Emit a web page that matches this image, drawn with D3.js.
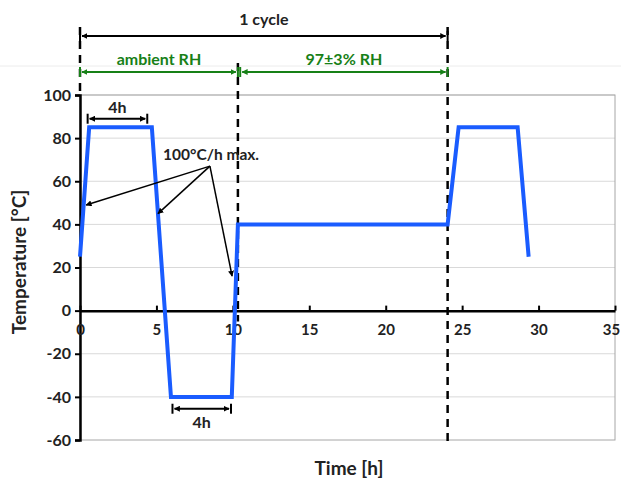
<!DOCTYPE html>
<html>
<head>
<meta charset="utf-8">
<script src="https://cdn.jsdelivr.net/npm/d3@7"></script>
<style>
  body { margin: 0; background: #fff; }
  text { font-family: Lato, "Open Sans", sans-serif; font-weight: bold; }
</style>
</head>
<body>
<div id="plot"></div>
<script>
// Temperature profile
const timeH = [0, 0.6, 4.7, 5.95, 9.93, 10.33, 24.05, 24.77, 28.63, 29.35];
const tempC = [25, 85, 85, -40, -40, 40, 40, 85, 85, 25];
const xTicks = [0, 5, 10, 15, 20, 25, 30, 35];
const yTicks = [-60, -40, -20, 0, 20, 40, 60, 80, 100];
// phase boundaries (h)
const cycleStart = 0, humidStart = 10.33, cycleEnd = 24.05;

const svgWidth = 621, svgHeight = 484;
const margin = { top: 95, right: 6, bottom: 44, left: 80 };

const svg = d3.select("#plot").append("svg")
    .attr("width", svgWidth)
    .attr("height", svgHeight);

const x = d3.scaleLinear().domain([0, 35]).range([margin.left, 615]);
const y = d3.scaleLinear().domain([-60, 100]).range([440, margin.top]);

// faint page line
svg.append("line")
    .attr("x1", 0).attr("x2", svgWidth)
    .attr("y1", 66).attr("y2", 66)
    .attr("stroke", "#ececec").attr("stroke-width", 1);

// gridlines
svg.append("g").selectAll("line")
    .data(yTicks.filter(d => d !== 0 && d !== -60))
    .enter().append("line")
    .attr("x1", x(0)).attr("x2", x(35))
    .attr("y1", d => y(d)).attr("y2", d => y(d))
    .attr("stroke", "#d9d9d9").attr("stroke-width", 1);

// plot frame
svg.append("rect")
    .attr("x", x(0)).attr("y", y(100))
    .attr("width", x(35) - x(0)).attr("height", y(-60) - y(100))
    .attr("fill", "none").attr("stroke", "#a6a6a6").attr("stroke-width", 1);

// y axis
const yAxis = svg.append("g")
    .attr("transform", `translate(${x(0)},0)`)
    .call(d3.axisLeft(y).tickValues(yTicks).tickFormat(d => String(d)).tickSize(5).tickPadding(4));
yAxis.select(".domain").attr("stroke", "#000").attr("stroke-width", 2.5);
yAxis.selectAll(".tick line").attr("stroke", "#000").attr("stroke-width", 2);
yAxis.selectAll("text").style("font-size", "16px").attr("fill", "#222");

// x axis through zero
const xAxis = svg.append("g")
    .attr("transform", `translate(0,${y(0)})`)
    .call(d3.axisBottom(x).tickValues(xTicks).tickFormat(d => String(d)).tickSize(0).tickPadding(14));
xAxis.select(".domain").attr("stroke", "#000").attr("stroke-width", 2.5);
xAxis.selectAll(".tick").append("line")
    .attr("y1", -5).attr("y2", 0)
    .attr("stroke", "#000").attr("stroke-width", 2);
xAxis.selectAll("text").style("font-size", "15px").attr("fill", "#222");
// last label sits against the page edge
xAxis.selectAll(".tick text").filter(d => d === 35).attr("dx", -4);

// axis titles
svg.append("text")
    .attr("transform", `translate(26,${262}) rotate(-90)`)
    .attr("text-anchor", "middle")
    .style("font-size", "19px")
    .attr("fill", "#222")
    .text("Temperature [°C]");
svg.append("text")
    .attr("x", 349).attr("y", 475)
    .attr("text-anchor", "middle")
    .style("font-size", "19px")
    .attr("fill", "#222")
    .text("Time [h]");

// dashed phase lines
const dash = "8,6";
svg.append("line")
    .attr("x1", x(cycleStart)).attr("x2", x(cycleStart))
    .attr("y1", 27).attr("y2", y(100))
    .attr("stroke", "#000").attr("stroke-width", 2.5).attr("stroke-dasharray", dash);
svg.append("line")
    .attr("x1", x(humidStart)).attr("x2", x(humidStart))
    .attr("y1", 63).attr("y2", y(-5))
    .attr("stroke", "#000").attr("stroke-width", 2.5).attr("stroke-dasharray", dash);
svg.append("line")
    .attr("x1", x(cycleEnd)).attr("x2", x(cycleEnd))
    .attr("y1", 27).attr("y2", 446)
    .attr("stroke", "#000").attr("stroke-width", 2.5).attr("stroke-dasharray", dash);

// arrowheads
const defs = svg.append("defs");
function marker(id, color) {
    defs.append("marker")
        .attr("id", id)
        .attr("viewBox", "0 0 10 10")
        .attr("refX", 9).attr("refY", 5)
        .attr("markerWidth", 6).attr("markerHeight", 6)
        .attr("markerUnits", "userSpaceOnUse")
        .attr("orient", "auto-start-reverse")
        .append("path")
        .attr("d", "M0,0 L10,5 L0,10 Z")
        .attr("fill", color);
}
marker("arrBlack", "#000");
marker("arrGreen", "#178017");

function spanArrow(t0, t1, yy, color, id, label, labelDy, size) {
    svg.append("line")
        .attr("x1", x(t0) + 2).attr("x2", x(t1) - 2)
        .attr("y1", yy).attr("y2", yy)
        .attr("stroke", color).attr("stroke-width", 2)
        .attr("marker-start", `url(#${id})`)
        .attr("marker-end", `url(#${id})`);
    [t0, t1].forEach(t => svg.append("line")
        .attr("x1", x(t)).attr("x2", x(t))
        .attr("y1", yy - 5).attr("y2", yy + 5)
        .attr("stroke", color).attr("stroke-width", 2));
    svg.append("text")
        .attr("x", (x(t0) + x(t1)) / 2).attr("y", yy + labelDy)
        .attr("text-anchor", "middle")
        .style("font-size", size)
        .attr("fill", color === "#000" ? "#222" : color)
        .text(label);
}

spanArrow(cycleStart, cycleEnd, 36, "#000", "arrBlack", "1 cycle", -11, "16px");
spanArrow(cycleStart, humidStart, 72, "#178017", "arrGreen", "ambient RH", -7, "16px");
spanArrow(humidStart + 0.15, cycleEnd, 72, "#178017", "arrGreen", "97±3% RH", -7, "16px");
spanArrow(timeH[1] - 0.1, timeH[2] - 0.3, y(89), "#000", "arrBlack", "4h", -6, "16px");
spanArrow(timeH[3] + 0.1, timeH[4] - 0.05, y(-45.5), "#000", "arrBlack", "4h", 19, "16px");

// temperature line
const line = d3.line()
    .x((d, i) => x(timeH[i]))
    .y(d => y(d));
svg.append("path")
    .datum(tempC)
    .attr("d", line)
    .attr("fill", "none")
    .attr("stroke", "#1a5cff")
    .attr("stroke-width", 4)
    .attr("stroke-linejoin", "miter");

// ramp-rate annotation
const apex = [x(8.5), y(67)];
const targets = [[0.4, 49], [5.1, 45], [9.95, 16]];
targets.forEach(([t, v]) => {
    svg.append("line")
        .attr("x1", apex[0]).attr("y1", apex[1])
        .attr("x2", x(t)).attr("y2", y(v))
        .attr("stroke", "#000").attr("stroke-width", 1.5)
        .attr("marker-end", "url(#arrBlack)");
});
svg.append("text")
    .attr("x", 163).attr("y", 160)
    .style("font-size", "15.5px")
    .attr("fill", "#222")
    .text("100°C/h max.");
</script>
</body>
</html>
